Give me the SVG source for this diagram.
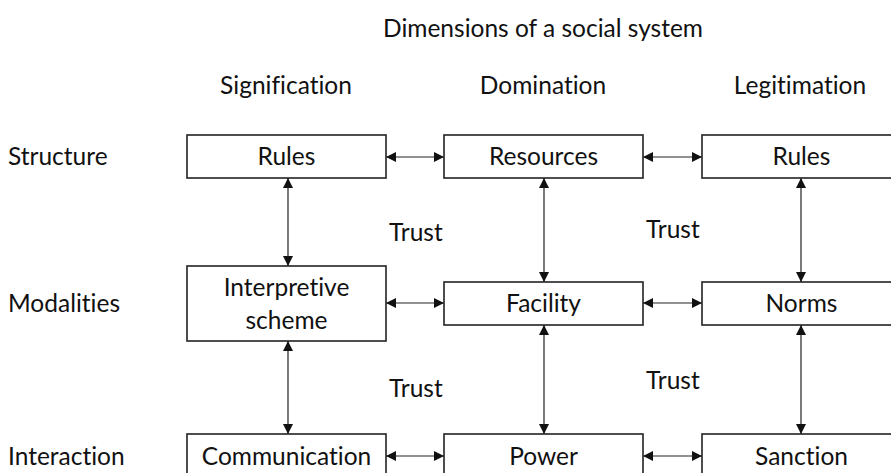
<svg xmlns="http://www.w3.org/2000/svg" width="891" height="473" viewBox="0 0 891 473">
<style>
text{font-family:Lato,"Liberation Sans",sans-serif;font-size:24.5px;fill:#111;font-variant-ligatures:none;}
.c{text-anchor:middle;}
.box{fill:#fff;stroke:#222;stroke-width:1.6;}
.ln{stroke:#222;stroke-width:1.2;fill:none;marker-start:url(#ah);marker-end:url(#ah);}
</style>
<defs>
<marker id="ah" viewBox="0 0 10 10" refX="10" refY="5" markerWidth="11" markerHeight="10" markerUnits="userSpaceOnUse" orient="auto-start-reverse">
<path d="M0,0 L10,5 L0,10 z" fill="#111"/>
</marker>
</defs>
<rect width="891" height="473" fill="#fff"/>
<g id="labels">
<text class="c" x="543" y="37">Dimensions of a social system</text>
<text class="c" x="286" y="94">Signification</text>
<text class="c" x="543" y="94">Domination</text>
<text class="c" x="800" y="94">Legitimation</text>
<text x="8" y="165">Structure</text>
<text x="8" y="312">Modalities</text>
<text x="8" y="465">Interaction</text>
<text x="389" y="241">Trust</text>
<text x="646" y="238">Trust</text>
<text x="389" y="397">Trust</text>
<text x="646" y="389">Trust</text>
</g>
<g id="connectors">
<line class="ln" x1="386" y1="157" x2="444" y2="157"/>
<line class="ln" x1="643" y1="157" x2="702" y2="157"/>
<line class="ln" x1="386" y1="303" x2="444" y2="303"/>
<line class="ln" x1="643" y1="303" x2="702" y2="303"/>
<line class="ln" x1="386" y1="456" x2="444" y2="456"/>
<line class="ln" x1="643" y1="456" x2="702" y2="456"/>
<line class="ln" x1="288" y1="178" x2="288" y2="266"/>
<line class="ln" x1="288" y1="341" x2="288" y2="434"/>
<line class="ln" x1="544" y1="178" x2="544" y2="282"/>
<line class="ln" x1="544" y1="325" x2="544" y2="434"/>
<line class="ln" x1="801" y1="178" x2="801" y2="282"/>
<line class="ln" x1="801" y1="325" x2="801" y2="434"/>
</g>
<g id="n-rules1"><rect class="box" x="187" y="135" width="199" height="43"/><text class="c" x="286.5" y="165">Rules</text></g>
<g id="n-resources"><rect class="box" x="444" y="135" width="199" height="43"/><text class="c" x="543.5" y="165">Resources</text></g>
<g id="n-rules2"><rect class="box" x="702" y="135" width="199" height="43"/><text class="c" x="801.5" y="165">Rules</text></g>
<g id="n-interp"><rect class="box" x="187" y="266" width="199" height="75"/><text class="c" x="286.5" y="296">Interpretive</text><text class="c" x="286.5" y="329">scheme</text></g>
<g id="n-facility"><rect class="box" x="444" y="282" width="199" height="43"/><text class="c" x="543.5" y="312">Facility</text></g>
<g id="n-norms"><rect class="box" x="702" y="282" width="199" height="43"/><text class="c" x="801.5" y="312">Norms</text></g>
<g id="n-comm"><rect class="box" x="187" y="434" width="199" height="50"/><text class="c" x="286.5" y="465">Communication</text></g>
<g id="n-power"><rect class="box" x="444" y="434" width="199" height="50"/><text class="c" x="543.5" y="465">Power</text></g>
<g id="n-sanction"><rect class="box" x="702" y="434" width="199" height="50"/><text class="c" x="801.5" y="465">Sanction</text></g>
</svg>
